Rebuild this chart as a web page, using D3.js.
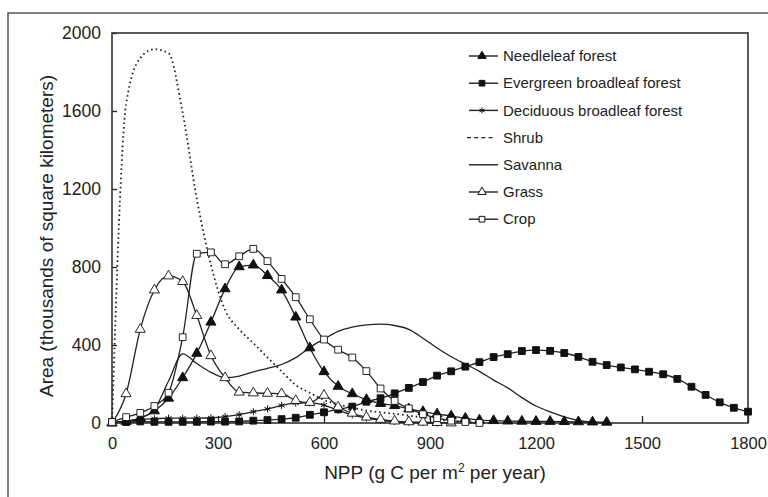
<!DOCTYPE html>
<html>
<head>
<meta charset="utf-8">
<script src="https://cdn.jsdelivr.net/npm/d3@7"></script>
<style>
  body { margin: 0; background: #fff; }
  svg { display: block; font-family: "Liberation Sans", Arial, sans-serif; }
</style>
</head>
<body>
<div id="chart"></div>
<script>
// NPP grid (g C per m2 per year), one value every 40
const npp = [0, 40, 80, 120, 160, 200, 240, 280, 320, 360, 400, 440, 480, 520, 560, 600,
  640, 680, 720, 760, 800, 840, 880, 920, 960, 1000, 1040, 1080, 1120, 1160, 1200, 1240,
  1280, 1320, 1360, 1400, 1440, 1480, 1520, 1560, 1600, 1640, 1680, 1720, 1760, 1800];

// area in thousands of km2, aligned with npp
const needleleaf = [0, 8, 25, 62, 127, 232, 357, 517, 688, 801, 810, 756, 682, 543, 385, 263,
  188, 150, 120, 100, 89, 72, 58, 46, 36, 24, 15, 12, 10, 9, 8, 8, 7, 6, 5, 4];
const evergreen = [5, 5, 8, 6, 6, 6, 6, 7, 7, 8, 12, 15, 20, 27, 42, 55,
  70, 84, 109, 127, 152, 180, 210, 243, 265, 289, 312, 338, 353, 369, 374, 370,
  359, 339, 314, 297, 285, 275, 263, 250, 226, 186, 144, 106, 78, 58];
const deciduous = [3, 10, 18, 22, 25, 25, 25, 27, 33, 43, 58, 72, 90, 102, 103, 92,
  65, 42, 25, 14, 7, 3, 1, 0];
const shrub = [0, 1635, 1872, 1917, 1896, 1590, 1150, 810, 580, 480, 410, 336, 265, 195, 155, 118,
  96, 79, 64, 55, 47, 38, 28, 18, 10, 5, 0];
const savanna = [0, 8, 25, 70, 215, 354, 305, 260, 232, 240, 262, 280, 300, 335, 388, 430,
  470, 492, 503, 507, 500, 480, 435, 385, 340, 302, 265, 220, 180, 130, 87, 57, 32, 14, 4, 0];
const grass = [0, 150, 480, 682, 754, 725, 551, 345, 232, 158, 154, 152, 150, 115, 105, 142,
  82, 50, 30, 18, 10, 6, 4, 2, 0];
const crop = [5, 30, 52, 87, 155, 440, 868, 875, 814, 855, 893, 830, 739, 645, 532, 428,
  376, 336, 266, 177, 113, 75, 45, 25, 12, 5, 0];

const xTicks = [0, 300, 600, 900, 1200, 1500, 1800];
const yTicks = [0, 400, 800, 1200, 1600, 2000];

// asterisk marker (6 arms)
const asterisk = {
  draw(ctx, size) {
    const r = Math.sqrt(size) / 2;
    for (let i = 0; i < 3; i++) {
      const a = Math.PI / 2 + i * Math.PI / 3;
      ctx.moveTo(r * Math.cos(a), r * Math.sin(a));
      ctx.lineTo(-r * Math.cos(a), -r * Math.sin(a));
    }
  }
};

const series = [
  { name: "Needleleaf forest", values: needleleaf, symbol: d3.symbolTriangle, size: 44, fill: "#111", dash: null },
  { name: "Evergreen broadleaf forest", values: evergreen, symbol: d3.symbolSquare, size: 46, fill: "#111", dash: null },
  { name: "Deciduous broadleaf forest", values: deciduous, symbol: asterisk, size: 48, fill: "none", dash: null },
  { name: "Shrub", values: shrub, symbol: null, dash: "1.6,3" },
  { name: "Savanna", values: savanna, symbol: null, dash: null },
  { name: "Grass", values: grass, symbol: d3.symbolTriangle, size: 44, fill: "#fff", dash: null },
  { name: "Crop", values: crop, symbol: d3.symbolSquare, size: 46, fill: "#fff", dash: null }
];

const W = 768, H = 497;
const svg = d3.select("#chart").append("svg")
  .attr("width", W)
  .attr("height", H);

// outer figure frame (only top and left edges fall inside the picture)
svg.append("rect")
  .attr("x", 8).attr("y", 13)
  .attr("width", 800).attr("height", 520)
  .attr("fill", "none")
  .attr("stroke", "#555")
  .attr("stroke-width", 1.5);

const x = d3.scaleLinear().domain([0, 1800]).range([112, 748]);
const y = d3.scaleLinear().domain([0, 2000]).range([423, 33]);

const line = d3.line()
  .x((d, i) => x(npp[i]))
  .y(d => y(d))
  .curve(d3.curveMonotoneX);

// axes, ticks pointing inward
svg.append("g")
  .attr("transform", "translate(0,423)")
  .call(d3.axisBottom(x).tickValues(xTicks).tickFormat(d3.format("d")).tickSize(-7).tickPadding(14))
  .call(g => g.select(".domain").remove())
  .call(g => g.selectAll("line").attr("stroke", "#222").attr("stroke-width", 1.3))
  .call(g => g.selectAll("text").attr("font-size", 16.5).attr("fill", "#222")
    .attr("font-family", "Liberation Sans, Arial, sans-serif"));

svg.append("g")
  .attr("transform", "translate(112,0)")
  .call(d3.axisLeft(y).tickValues(yTicks).tickFormat(d3.format("d")).tickSize(-5).tickPadding(11))
  .call(g => g.select(".domain").remove())
  .call(g => g.selectAll("line").attr("stroke", "#222").attr("stroke-width", 1.3))
  .call(g => g.selectAll("text").attr("font-size", 17.5).attr("fill", "#222")
    .attr("font-family", "Liberation Sans, Arial, sans-serif"));

// plot frame
svg.append("rect")
  .attr("x", 112).attr("y", 33)
  .attr("width", 636).attr("height", 390)
  .attr("fill", "none")
  .attr("stroke", "#333")
  .attr("stroke-width", 1.6);

// lines
svg.append("g")
  .selectAll("path")
  .data(series)
  .join("path")
  .attr("d", d => line(d.values))
  .attr("fill", "none")
  .attr("stroke", "#222")
  .attr("stroke-width", d => d.dash ? 1.8 : 1.3)
  .attr("stroke-dasharray", d => d.dash);

// markers
const marked = series.filter(s => s.symbol);
marked.forEach(s => {
  svg.append("g")
    .selectAll("path")
    .data(s.values)
    .join("path")
    .attr("transform", (d, i) => `translate(${x(npp[i])},${y(d)})`)
    .attr("d", d3.symbol().type(s.symbol).size(s.size))
    .attr("fill", s.fill)
    .attr("stroke", "#111")
    .attr("stroke-width", s.fill === "#fff" ? 0.9 : 1);
});

// legend
const legend = svg.append("g").selectAll("g")
  .data(series)
  .join("g")
  .attr("transform", (d, i) => `translate(0,${56 + i * 27.2})`);

legend.append("line")
  .attr("x1", d => d.dash ? 467 : 469)
  .attr("x2", d => d.dash ? 494 : 498)
  .attr("stroke", "#222")
  .attr("stroke-width", 1.4)
  .attr("stroke-dasharray", d => d.dash ? "4,3.2" : null);

legend.filter(d => d.symbol)
  .append("path")
  .attr("transform", "translate(482,0)")
  .attr("d", d => d3.symbol().type(d.symbol).size(d.size * 0.7)())
  .attr("fill", d => d.fill)
  .attr("stroke", "#111")
  .attr("stroke-width", 1);

legend.append("text")
  .attr("x", 503)
  .attr("dy", "0.35em")
  .attr("font-size", 15)
  .attr("fill", "#222")
  .text(d => d.name);

// axis titles
svg.append("text")
  .attr("transform", "translate(53,236) rotate(-90)")
  .attr("text-anchor", "middle")
  .attr("font-size", 19)
  .attr("fill", "#222")
  .text("Area (thousands of square kilometers)");

const xt = svg.append("text")
  .attr("x", 435)
  .attr("y", 479)
  .attr("text-anchor", "middle")
  .attr("font-size", 19)
  .attr("fill", "#222");
xt.append("tspan").text("NPP (g C per m");
xt.append("tspan").attr("dy", -7).attr("font-size", 12).text("2");
xt.append("tspan").attr("dy", 7).text(" per year)");
</script>
</body>
</html>
